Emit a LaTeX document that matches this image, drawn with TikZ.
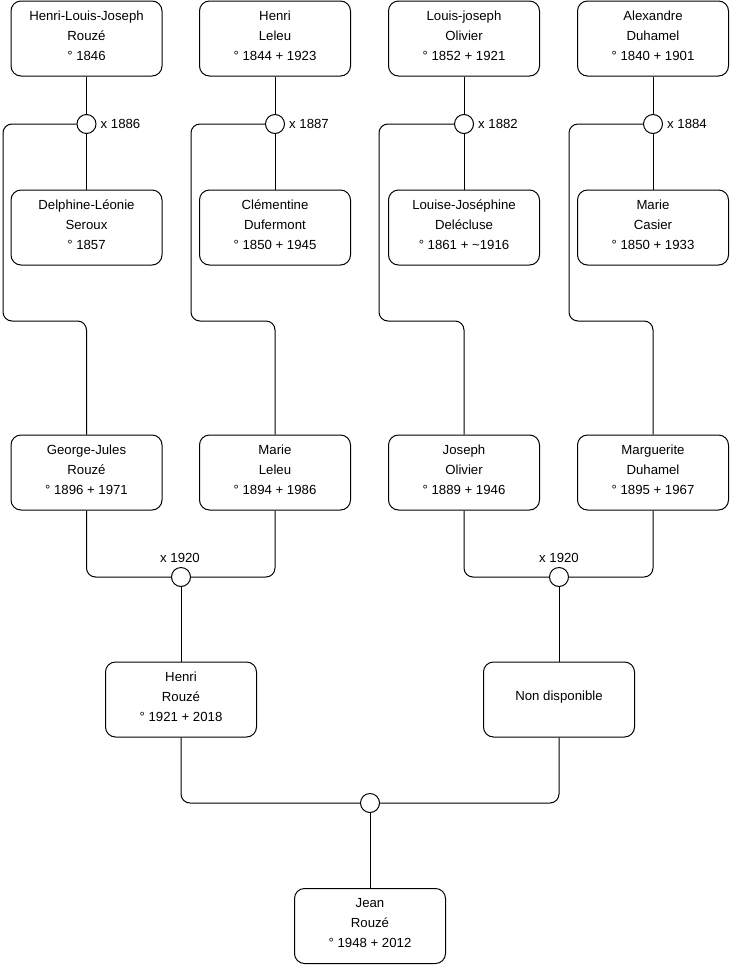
\documentclass[tikz,border=0pt]{standalone}
\usepackage{fontspec}
\setmainfont{Liberation Sans}
\begin{document}
\begin{tikzpicture}[x=1pt,y=-1pt,
  person/.style={draw, rounded corners=10pt, minimum width=151pt, minimum height=75pt, line width=1pt, inner sep=0pt},
  txt/.style={font=\fontsize{13.2}{20}\selectfont, align=center, inner sep=0pt},
  union/.style={draw, circle, fill=white, minimum size=19pt, inner sep=0pt, line width=1pt},
  link/.style={line width=1pt, rounded corners=9pt},
  yr/.style={font=\fontsize{13.2}{15}\selectfont, inner sep=0pt}]
\useasboundingbox (0,0) rectangle (740,975);
% generation 1
\node[person] (p1) at (86.5,38.5) {};
\node[person] (p2) at (275,38.5) {};
\node[person] (p3) at (464,38.5) {};
\node[person] (p4) at (653,38.5) {};
\node[txt] (tp1) at ([yshift=2.5pt]p1.center) {Henri-Louis-Joseph\\Rouzé\\° 1846};
\node[txt] (tp2) at ([yshift=2.5pt]p2.center) {Henri\\Leleu\\° 1844 + 1923};
\node[txt] (tp3) at ([yshift=2.5pt]p3.center) {Louis-joseph\\Olivier\\° 1852 + 1921};
\node[txt] (tp4) at ([yshift=2.5pt]p4.center) {Alexandre\\Duhamel\\° 1840 + 1901};
% spouses
\node[person] (q1) at (86.5,227.5) {};
\node[person] (q2) at (275,227.5) {};
\node[person] (q3) at (464,227.5) {};
\node[person] (q4) at (653,227.5) {};
\node[txt] (tq1) at ([yshift=2.5pt]q1.center) {Delphine-Léonie\\Seroux\\° 1857};
\node[txt] (tq2) at ([yshift=2.5pt]q2.center) {Clémentine\\Dufermont\\° 1850 + 1945};
\node[txt] (tq3) at ([yshift=2.5pt]q3.center) {Louise-Joséphine\\Delécluse\\° 1861 + \textasciitilde1916};
\node[txt] (tq4) at ([yshift=2.5pt]q4.center) {Marie\\Casier\\° 1850 + 1933};
% generation 2
\node[person] (g1) at (86.5,472.5) {};
\node[person] (g2) at (275,472.5) {};
\node[person] (g3) at (464,472.5) {};
\node[person] (g4) at (653,472.5) {};
\node[txt] (tg1) at ([yshift=2.5pt]g1.center) {George-Jules\\Rouzé\\° 1896 + 1971};
\node[txt] (tg2) at ([yshift=2.5pt]g2.center) {Marie\\Leleu\\° 1894 + 1986};
\node[txt] (tg3) at ([yshift=2.5pt]g3.center) {Joseph\\Olivier\\° 1889 + 1946};
\node[txt] (tg4) at ([yshift=2.5pt]g4.center) {Marguerite\\Duhamel\\° 1895 + 1967};
% generation 3
\node[person] (h1) at (181,699.5) {};
\node[person] (h2) at (559,699.5) {};
\node[txt] (th1) at ([yshift=2.5pt]h1.center) {Henri\\Rouzé\\° 1921 + 2018};
\node[txt] (th2) at ([yshift=2pt]h2.center) {Non disponible};
% generation 4
\node[person] (j) at (370,926) {};
\node[txt] (tj) at ([yshift=2.5pt]j.center) {Jean\\Rouzé\\° 1948 + 2012};
% union circles
\node[union] (c1) at (86.5,124) {};
\node[union] (c2) at (275,124) {};
\node[union] (c3) at (464,124) {};
\node[union] (c4) at (653,124) {};
\node[union] (u1) at (181,577) {};
\node[union] (u2) at (559,577) {};
\node[union] (u3) at (370,803) {};
% union labels
\node[yr, anchor=west] (l1) at ([xshift=4pt]c1.east) {x 1886};
\node[yr, anchor=west] (l2) at ([xshift=4pt]c2.east) {x 1887};
\node[yr, anchor=west] (l3) at ([xshift=4pt]c3.east) {x 1882};
\node[yr, anchor=west] (l4) at ([xshift=4pt]c4.east) {x 1884};
\node[yr] (l5) at (180,558) {x 1920};
\node[yr] (l6) at (559,558) {x 1920};
% connectors
\draw[link] (p1.south) -- (c1.north);
\draw[link] (c1.south) -- (q1.north);
\draw[link] (p2.south) -- (c2.north);
\draw[link] (c2.south) -- (q2.north);
\draw[link] (p3.south) -- (c3.north);
\draw[link] (c3.south) -- (q3.north);
\draw[link] (p4.south) -- (c4.north);
\draw[link] (c4.south) -- (q4.north);
\draw[link] (c1.west) -| (3,321) -| (g1.north);
\draw[link] (c2.west) -| (191,321) -| (g2.north);
\draw[link] (c3.west) -| (379,321) -| (g3.north);
\draw[link] (c4.west) -| (569,321) -| (g4.north);
\draw[link] (g1.south) |- (u1.west);
\draw[link] (g2.south) |- (u1.east);
\draw[link] (g3.south) |- (u2.west);
\draw[link] (g4.south) |- (u2.east);
\draw[link] (u1.south) -- (h1.north);
\draw[link] (u2.south) -- (h2.north);
\draw[link] (h1.south) |- (u3.west);
\draw[link] (h2.south) |- (u3.east);
\draw[link] (u3.south) -- (j.north);
\end{tikzpicture}
\end{document}
